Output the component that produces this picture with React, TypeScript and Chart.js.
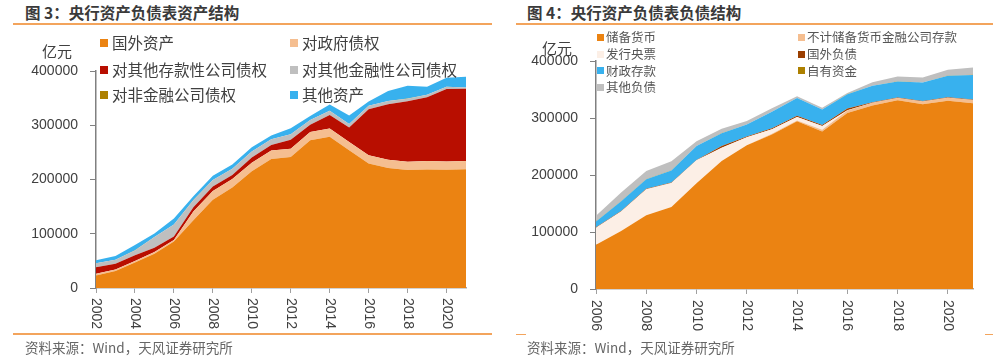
import React, { useEffect, useRef } from 'react';
import { Chart, registerables } from 'chart.js';

Chart.register(...registerables);

// ---------- Data: 图3 资产结构 (亿元) ----------
const assetYears = [2002, 2003, 2004, 2005, 2006, 2007, 2008, 2009, 2010, 2011, 2012, 2013, 2014, 2015, 2016, 2017, 2018, 2019, 2020, 2021];
const foreignAssets = [23243, 31142, 46960, 63339, 85773, 124825, 162543, 185333, 215420, 237898, 241416, 272233, 278623, 253831, 229596, 221164, 217648, 218639, 218039, 219000];
const govClaims = [2864, 2901, 2970, 2893, 2856, 16318, 16196, 15662, 15421, 15400, 15314, 15313, 15313, 15313, 15274, 15274, 15250, 15250, 15250, 15241];
const depositoryClaims = [12288, 10619, 10424, 7874, 6517, 7862, 8433, 7162, 9486, 10248, 16701, 13148, 24985, 26626, 84739, 102230, 111517, 117748, 133355, 133000];
const otherFinClaims = [7240, 7256, 8865, 19766, 21950, 12972, 11853, 11530, 11326, 10644, 10039, 8907, 7849, 6657, 6325, 5986, 4642, 4623, 4507, 2300];
const nonFinClaims = [206, 206, 137, 67, 67, 64, 44, 44, 25, 25, 25, 25, 25, 43, 80, 100, 27, 10, 10, 10];
const otherAssets = [5267, 7000, 9700, 6500, 11000, 7100, 8027, 7800, 7600, 6760, 11040, 7650, 11450, 15370, 7700, 18180, 23860, 14830, 16510, 20000];

// ---------- Data: 图4 负债结构 (亿元) ----------
const liabYears = [2006, 2007, 2008, 2009, 2010, 2011, 2012, 2013, 2014, 2015, 2016, 2017, 2018, 2019, 2020, 2021];
const reserveMoney = [77758, 101545, 129222, 143985, 185311, 224642, 252345, 271023, 294093, 276378, 308980, 321870, 330957, 324175, 330428, 326000];
const nonReserveDeposits = [0, 0, 0, 0, 0, 0, 0, 1330, 1349, 2826, 4000, 5019, 4016, 4574, 4882, 5500];
const pbocBills = [29741, 34469, 45780, 42064, 40497, 23337, 13880, 7762, 6522, 6572, 500, 0, 0, 0, 0, 0];
const foreignLiab = [926, 947, 732, 762, 720, 2700, 1464, 2088, 1833, 1807, 3196, 880, 1007, 1108, 930, 1000];
const govDeposits = [10211, 17121, 16963, 21226, 24277, 22734, 20753, 28611, 31275, 27179, 25062, 28626, 28225, 32415, 38000, 43000];
const ownCapital = [220, 220, 220, 220, 220, 220, 220, 220, 220, 220, 220, 220, 220, 220, 220, 220];
const otherLiab = [9718, 14838, 14179, 16000, 8250, 7345, 5875, 6245, 2957, 2855, 2000, 6317, 8515, 8599, 10000, 13000];

const assetLabels = ['国外资产', '对政府债权', '对其他存款性公司债权', '对其他金融性公司债权', '对非金融公司债权', '其他资产'];
const liabLabels = ['储备货币', '不计储备货币金融公司存款', '发行央票', '国外负债', '财政存款', '自有资金', '其他负债'];
const yTicks = [0, 100000, 200000, 300000, 400000];

const C_ORANGE = '#EB8312';
const C_PEACH = '#F5BE90';
const C_RED = '#B80E00';
const C_GRAY = '#BFBFBF';
const C_GOLD = '#AD8000';
const C_BLUE = '#38B1EE';
const C_CREAM = '#FCEFE6';
const C_BROWN = '#9A3E00';
const C_LINE = '#F3A45C';

const FONT_NUM = '"Liberation Sans", Arial, sans-serif';
const FONT_CJK = '"Noto Sans CJK SC", "Noto Sans", sans-serif';

type Series = { label: string; data: number[]; color: string };

const assetSeries: Series[] = [
  { label: assetLabels[0], data: foreignAssets, color: C_ORANGE },
  { label: assetLabels[1], data: govClaims, color: C_PEACH },
  { label: assetLabels[2], data: depositoryClaims, color: C_RED },
  { label: assetLabels[3], data: otherFinClaims, color: C_GRAY },
  { label: assetLabels[4], data: nonFinClaims, color: C_GOLD },
  { label: assetLabels[5], data: otherAssets, color: C_BLUE },
];

const liabSeries: Series[] = [
  { label: liabLabels[0], data: reserveMoney, color: C_ORANGE },
  { label: liabLabels[1], data: nonReserveDeposits, color: C_PEACH },
  { label: liabLabels[2], data: pbocBills, color: C_CREAM },
  { label: liabLabels[3], data: foreignLiab, color: C_BROWN },
  { label: liabLabels[4], data: govDeposits, color: C_BLUE },
  { label: liabLabels[5], data: ownCapital, color: C_GOLD },
  { label: liabLabels[6], data: otherLiab, color: C_GRAY },
];

const clockwiseXLabels = {
  id: 'cwx',
  afterDraw(chart: any, _args: any, opts: any) {
    const s = chart.scales.x;
    const c = chart.ctx;
    c.save();
    c.fillStyle = '#404040';
    c.font = `14px ${FONT_NUM}`;
    c.textAlign = 'left';
    c.textBaseline = 'middle';
    s.ticks.forEach((t: any) => {
      const x = s.getPixelForValue(t.value);
      c.save();
      c.translate(x + (opts.dx || 0), chart.chartArea.bottom + opts.gap);
      c.rotate(Math.PI / 2);
      c.fillText(String(t.value), 0, 0);
      c.restore();
    });
    c.restore();
  },
};

type AreaProps = {
  years: number[];
  series: Series[];
  left: number;
  top: number;
  width: number;
  height: number;
  plotLeft: number;
  plotTop: number;
  plotRight: number;
  plotBottom: number;
  labelGap: number;
};

function AreaChart(p: AreaProps) {
  const ref = useRef<HTMLCanvasElement>(null);
  useEffect(() => {
    const first = p.years[0];
    const last = p.years[p.years.length - 1];
    const chart = new Chart(ref.current as HTMLCanvasElement, {
      type: 'line',
      data: {
        labels: p.years as any,
        datasets: p.series.map((s, i) => ({
          label: s.label,
          data: s.data,
          backgroundColor: s.color,
          borderColor: s.color,
          borderWidth: 0,
          pointRadius: 0,
          pointHoverRadius: 0,
          tension: 0,
          fill: i === 0 ? 'origin' : '-1',
        })),
      },
      options: {
        animation: false,
        responsive: false,
        maintainAspectRatio: false,
        events: [],
        layout: {
          padding: { top: p.plotTop - p.top, right: p.left + p.width - p.plotRight, left: 0, bottom: 0 },
        },
        plugins: {
          legend: { display: false },
          tooltip: { enabled: false },
          cwx: { gap: p.labelGap },
        } as any,
        scales: {
          x: {
            type: 'linear',
            min: first,
            max: last,
            afterFit: (s: any) => {
              s.height = p.top + p.height - p.plotBottom;
            },
            afterBuildTicks: (s: any) => {
              s.ticks = s.ticks.filter((t: any) => (t.value - first) % 2 === 0 && t.value <= last);
            },
            ticks: { display: false, stepSize: 2, includeBounds: false },
            grid: { display: true, drawOnChartArea: false, drawTicks: true, tickLength: 5, color: '#A0A0A0', lineWidth: 1 },
            border: { display: true, color: '#A6A6A6', width: 1.5 },
          },
          y: {
            stacked: true,
            min: 0,
            max: 400000,
            afterFit: (s: any) => {
              s.width = p.plotLeft - p.left;
            },
            afterBuildTicks: (s: any) => {
              s.ticks = yTicks.map((v) => ({ value: v }));
            },
            ticks: {
              padding: 12,
              color: '#404040',
              font: { family: FONT_NUM, size: 14 },
              callback: (v: any) => String(v),
            },
            grid: { display: true, drawOnChartArea: false, drawTicks: true, tickLength: 6, color: '#808080', lineWidth: 1 },
            border: { display: true, color: '#808080', width: 1.5 },
          },
        },
      } as any,
      plugins: [clockwiseXLabels],
    });
    return () => chart.destroy();
  }, []);
  return (
    <canvas
      ref={ref}
      width={p.width}
      height={p.height}
      style={{ position: 'absolute', left: p.left, top: p.top, width: p.width, height: p.height }}
    />
  );
}

function Legend({ series, cols, rows, size, gap, fontSize, color }: { series: Series[]; cols: number[]; rows: number[]; size: number; gap: number; fontSize: number; color: string }) {
  return (
    <>
      {series.map((s, i) => {
        const cx = cols[i % 2];
        const cy = rows[Math.floor(i / 2)];
        return (
          <React.Fragment key={s.label}>
            <div style={{ position: 'absolute', left: cx, top: cy - size / 2, width: size, height: size, background: s.color }} />
            <div
              style={{
                position: 'absolute',
                left: cx + size + gap,
                top: cy - fontSize * 0.7,
                height: fontSize * 1.4,
                lineHeight: `${fontSize * 1.4}px`,
                fontSize,
                fontFamily: FONT_CJK,
                color,
                whiteSpace: 'nowrap',
              }}
            >
              {s.label}
            </div>
          </React.Fragment>
        );
      })}
    </>
  );
}

function Text({ x, y, size, children, bold, color, center }: any) {
  return (
    <div
      style={{
        position: 'absolute',
        left: center ? x - 100 : x,
        width: center ? 200 : undefined,
        textAlign: center ? 'center' : 'left',
        top: y - size * 0.7,
        height: size * 1.4,
        lineHeight: `${size * 1.4}px`,
        fontSize: size,
        fontWeight: bold ? 700 : 400,
        fontFamily: FONT_CJK,
        color: color || '#333',
        whiteSpace: 'nowrap',
      }}
    >
      {children}
    </div>
  );
}

function HLine({ x1, x2, y }: { x1: number; x2: number; y: number }) {
  return <div style={{ position: 'absolute', left: x1, top: y - 0.75, width: x2 - x1, height: 1.5, background: C_LINE }} />;
}

export default function App() {
  return (
    <div style={{ position: 'absolute', left: 0, top: 0, width: 1000, height: 359, background: '#fff', overflow: 'hidden' }}>
      {/* Left panel */}
      <Text x={25} y={13} size={15.5} bold color="#3a3a3a">图 3：央行资产负债表资产结构</Text>
      <HLine x1={13} x2={492} y={24} />
      <AreaChart
        years={assetYears}
        series={assetSeries}
        left={0}
        top={50}
        width={490}
        height={295}
        plotLeft={96}
        plotTop={71}
        plotRight={466}
        plotBottom={288}
        labelGap={10}
      />
      <Text x={57} y={50} size={15} center color="#404040">亿元</Text>
      <Legend series={assetSeries} cols={[100, 290]} rows={[43, 69.5, 95]} size={8} gap={4} fontSize={15.5} color="#404040" />
      <HLine x1={13} x2={492} y={334} />
      <Text x={25} y={347} size={13.5} color="#666">资料来源：Wind，天风证券研究所</Text>

      {/* Right panel */}
      <Text x={527} y={13} size={15.5} bold color="#3a3a3a">图 4：央行资产负债表负债结构</Text>
      <HLine x1={516} x2={993} y={24} />
      <AreaChart
        years={liabYears}
        series={liabSeries}
        left={500}
        top={40}
        width={497}
        height={305}
        plotLeft={596}
        plotTop={61}
        plotRight={973}
        plotBottom={289}
        labelGap={11}
      />
      <Text x={557} y={47} size={15} center color="#404040">亿元</Text>
      <Legend series={liabSeries} cols={[597, 798]} rows={[37, 54, 70.5, 87]} size={7} gap={2} fontSize={12.5} color="#555" />
      <HLine x1={516} x2={526} y={334.5} />
      <HLine x1={985} x2={993} y={334.5} />
      <Text x={527} y={347} size={13.5} color="#666">资料来源：Wind，天风证券研究所</Text>
    </div>
  );
}
